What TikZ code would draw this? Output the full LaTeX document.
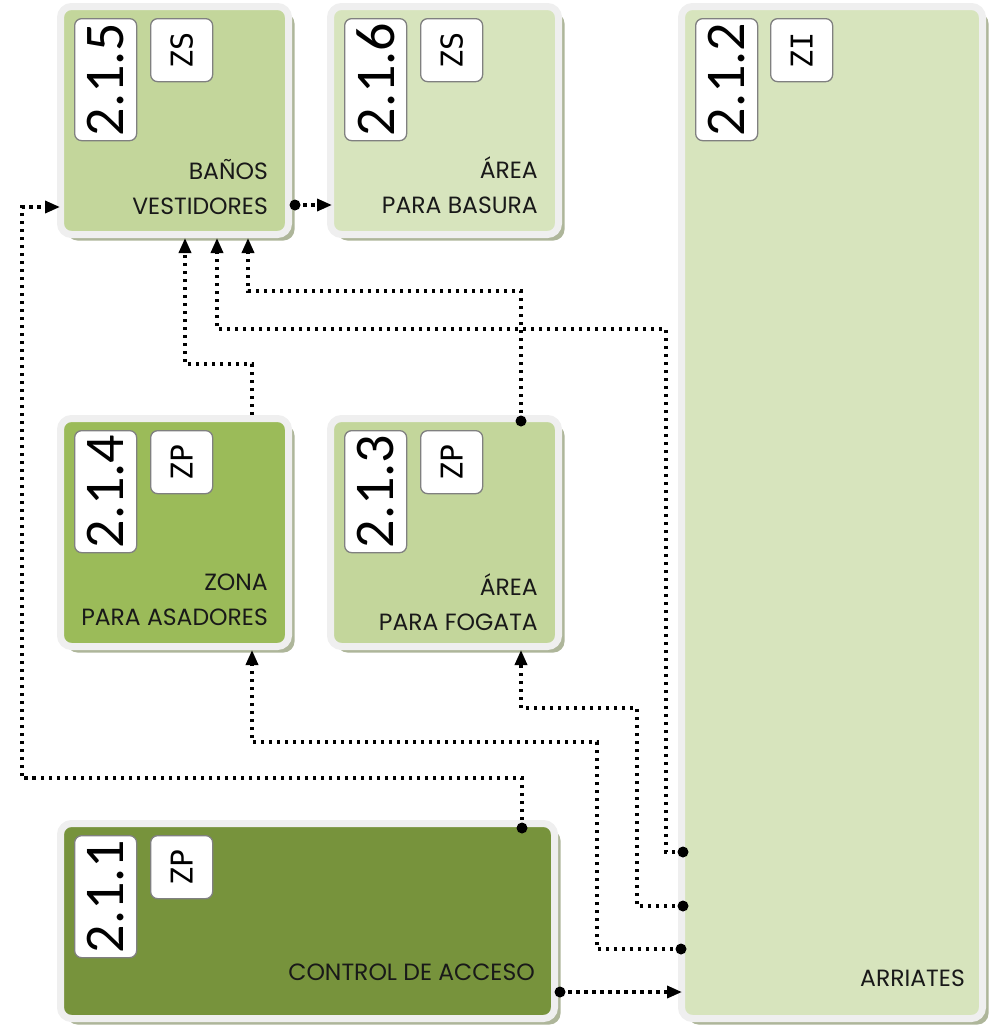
\documentclass[tikz,border=0pt]{standalone}
\usepackage{fontspec}
\usepackage{graphicx}
\setmainfont{Poppins}
\newfontfamily\numfont{Carlito}
\newfontfamily\zonefont{DejaVu Sans Mono}
\usetikzlibrary{arrows.meta,shadows}
\definecolor{cA}{HTML}{C3D69B}
\definecolor{cB}{HTML}{D7E4BD}
\definecolor{cC}{HTML}{9BBB59}
\definecolor{cD}{HTML}{77933C}
\definecolor{framec}{HTML}{EFEFEF}
\definecolor{shadowc}{HTML}{AEB69A}
\definecolor{taggray}{HTML}{808080}
\begin{document}
\begin{tikzpicture}[x=1pt,y=-1pt,
 zonebox/.style={draw=framec, line width=7pt, rounded corners=11pt, inner sep=0pt,
   drop shadow={shadow xshift=6pt, shadow yshift=-6pt, fill=shadowc, opacity=1}},
 numtag/.style={draw=taggray, fill=white, line width=1.3pt, rounded corners=7pt,
   minimum width=62pt, minimum height=122pt, inner sep=0pt, anchor=north west,
   font=\numfont\fontsize{56}{56}\selectfont},
 zonetag/.style={numtag, minimum height=63pt, font=\zonefont\fontsize{30}{30}\selectfont},
 lbl/.style={align=right, anchor=east, inner sep=0pt, font=\fontsize{23.5}{35}\selectfont, text=black!90},
 conn/.style={line width=3.5pt, dash pattern=on 3.5pt off 4.5pt, -{Triangle[length=15pt,width=12pt]}},
]
\useasboundingbox (0,0) rectangle (995,1026);
% boxes
\node[zonebox, fill=cA, minimum width=228pt, minimum height=228pt] (b215) at (174.5,120.5) {};
\node[zonebox, fill=cB, minimum width=228pt, minimum height=228pt] (b216) at (444.5,120.5) {};
\node[zonebox, fill=cC, minimum width=228pt, minimum height=228pt] (b214) at (174.5,532.5) {};
\node[zonebox, fill=cA, minimum width=228pt, minimum height=228pt] (b213) at (444.5,532.5) {};
\node[zonebox, fill=cD, minimum width=494pt, minimum height=195pt] (b211) at (307.5,921) {};
\node[zonebox, fill=cB, minimum width=301pt, minimum height=1012pt] (b212) at (832,512.5) {};
% tags
\node[numtag] (n215) at ([shift={(17pt,-15pt)}]b215.north west) {\rotatebox{90}{2.1.5}};
\node[zonetag] (z215) at ([shift={(93pt,-15pt)}]b215.north west) {\rotatebox{90}{ZS}};
\node[numtag] (n216) at ([shift={(17pt,-15pt)}]b216.north west) {\rotatebox{90}{2.1.6}};
\node[zonetag] (z216) at ([shift={(93pt,-15pt)}]b216.north west) {\rotatebox{90}{ZS}};
\node[numtag] (n214) at ([shift={(17pt,-15pt)}]b214.north west) {\rotatebox{90}{2.1.4}};
\node[zonetag] (z214) at ([shift={(93pt,-15pt)}]b214.north west) {\rotatebox{90}{ZP}};
\node[numtag] (n213) at ([shift={(17pt,-15pt)}]b213.north west) {\rotatebox{90}{2.1.3}};
\node[zonetag] (z213) at ([shift={(93pt,-15pt)}]b213.north west) {\rotatebox{90}{ZP}};
\node[numtag] (n211) at ([shift={(17pt,-15pt)}]b211.north west) {\rotatebox{90}{2.1.1}};
\node[zonetag] (z211) at ([shift={(93pt,-15pt)}]b211.north west) {\rotatebox{90}{ZP}};
\node[numtag] (n212) at ([shift={(17pt,-15pt)}]b212.north west) {\rotatebox{90}{2.1.2}};
\node[zonetag] (z212) at ([shift={(92pt,-15pt)}]b212.north west) {\rotatebox{90}{ZI}};
% labels
\node[lbl] (l215) at (268,187.5) {BAÑOS\\VESTIDORES};
\node[lbl] (l216) at (538,185) {ÁREA\\PARA BASURA};
\node[lbl] (l214) at (268,600) {ZONA\\PARA ASADORES};
\node[lbl] (l213) at (538,602) {ÁREA\\PARA FOGATA};
\node[lbl] (l211) at (535,972) {CONTROL DE ACCESO};
\node[lbl] (l212) at (965,978) {ARRIATES};
% connector end points
\path (b215.east |- 0,205) ++(3,0) coordinate (s1);
\path (b216.west |- s1) ++(5,0) coordinate (e1);
\path (b211.north -| 522,0) ++(0,8) coordinate (s2);
\path (b215.west |- 0,207) ++(3,0) coordinate (e2);
\path (b213.north -| 521,0) ++(0,6) coordinate (s4);
\path (b212.west |- 0,852) ++(5,0) coordinate (s5);
\path (b212.west |- 0,906) ++(5,0) coordinate (s6);
\path (b212.west |- 0,949) ++(3,0) coordinate (s7);
\path (b211.east |- 0,992) ++(2,0) coordinate (s8);
\path (b212.west |- s8) ++(4,0) coordinate (e8);
% connectors
\draw[conn] (s1) -- (e1);
\draw[conn] (s2) |- (22,778) |- (e2);
\draw[conn] (b214.north -| 252,0) |- (185,364) -- (b215.south -| 185,0);
\draw[conn] (s4) |- (248,291) -- (b215.south -| 248,0);
\draw[conn] (s5) -| (666,329) -| (b215.south -| 217,0);
\draw[conn] (s6) -| (637,708) -| (b213.south -| 521,0);
\draw[conn] (s7) -| (597,742) -| (b214.south -| 252,0);
\draw[conn] (s8) -- (e8);
\foreach \s in {s1,s2,s4,s5,s6,s7,s8} \fill (\s) circle (5.5pt);
\end{tikzpicture}
\end{document}
